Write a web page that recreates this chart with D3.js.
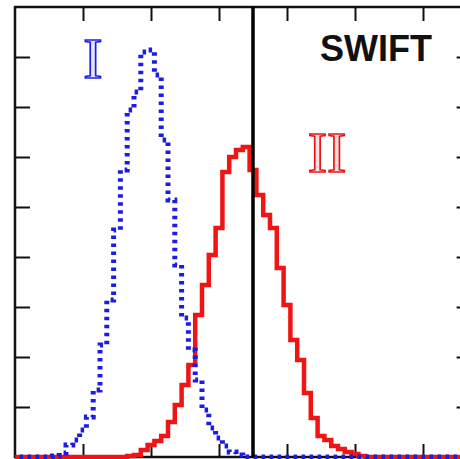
<!DOCTYPE html>
<html>
<head>
<meta charset="utf-8">
<script src="https://cdn.jsdelivr.net/npm/d3@7"></script>
<style>
  html, body { margin: 0; padding: 0; background: #fff; }
  svg { display: block; }
</style>
</head>
<body>
<svg id="svg1" width="460" height="459"></svg>
<script>
const svg = d3.select('#svg1');

// histogram counts, one value per bin (bin k is centred on k)
const blueCounts = [0, 0, 0, 0, 0, 0, 0.02, 0.08, 0.24, 0.34,
  0.54, 0.8, 1.34, 2.24, 3.14, 4.54, 5.74, 6.94, 7.3, 8.1,
  8.14, 7.64, 6.34, 5.14, 3.84, 2.78, 2.14, 1.54, 0.94, 0.58,
  0.38, 0.22, 0.1, 0.04, 0, 0, 0, 0, 0, 0,
  0, 0, 0, 0, 0, 0, 0, 0, 0, 0,
  0, 0, 0, 0, 0, 0, 0, 0, 0, 0,
  0, 0, 0, 0, 0, 0, 0, 0];
const redCounts = [0, 0, 0, 0, 0, 0, 0, 0, 0, 0,
  0, 0, 0, 0, 0, 0, 0, 0.02, 0.04, 0.14,
  0.24, 0.32, 0.42, 0.7, 1.04, 1.44, 1.84, 2.84, 3.44, 4.04,
  4.58, 5.7, 6.0, 6.14, 6.2, 5.74, 5.24, 4.84, 4.58, 3.78,
  3.04, 2.34, 1.94, 1.28, 0.78, 0.42, 0.34, 0.22, 0.16, 0.1,
  0.06, 0.02, 0, 0, 0, 0, 0, 0, 0, 0,
  0, 0, 0, 0, 0, 0, 0, 0];
const xTicks = [10, 20, 30, 40, 50, 60];
const yTicks = [1, 2, 3, 4, 5, 6, 7, 8];
const divider = 35;

// frame
const fLeft = 15, fTop = 7, fRight = 470.6, fBottom = 457;
const x = d3.scaleLinear().domain([0, 67]).range([fLeft, fRight]);
const y = d3.scaleLinear().domain([0, 9]).range([fBottom, fTop]);

svg.append('defs').append('clipPath').attr('id', 'clip')
  .append('rect')
  .attr('x', fLeft).attr('y', fTop - 2)
  .attr('width', fRight - fLeft).attr('height', fBottom - fTop + 4);

// ticks on all four sides, pointing inward
function styleAxis(g) {
  g.select('.domain').remove();
  g.selectAll('text').remove();
  g.selectAll('line').attr('stroke', '#111').attr('stroke-width', 2);
}
svg.append('g').attr('transform', `translate(0,${fTop})`)
  .call(d3.axisTop(x).tickValues(xTicks).tickSize(-14)).call(styleAxis);
svg.append('g').attr('transform', `translate(0,${fBottom})`)
  .call(d3.axisBottom(x).tickValues(xTicks).tickSize(-13)).call(styleAxis);
svg.append('g').attr('transform', `translate(${fLeft},0)`)
  .call(d3.axisLeft(y).tickValues(yTicks).tickSize(-15)).call(styleAxis);
svg.append('g').attr('transform', `translate(${fRight},0)`)
  .call(d3.axisRight(y).tickValues(yTicks).tickSize(-14)).call(styleAxis);

svg.append('rect')
  .attr('x', fLeft).attr('y', fTop)
  .attr('width', fRight - fLeft).attr('height', fBottom - fTop)
  .attr('fill', 'none').attr('stroke', '#111').attr('stroke-width', 2.5);

// step outline of a histogram
function stepPoints(counts) {
  const pts = counts.map((v, k) => [k - 0.5, v]);
  pts.push([counts.length - 0.5, counts[counts.length - 1]]);
  return pts;
}
const line = d3.line()
  .x(d => x(d[0]))
  .y(d => y(d[1]))
  .curve(d3.curveStepAfter);

const plot = svg.append('g').attr('clip-path', 'url(#clip)');

plot.append('path')
  .datum(stepPoints(redCounts))
  .attr('d', line)
  .attr('fill', 'none')
  .attr('stroke', '#f01414')
  .attr('stroke-width', 4.5);

plot.append('path')
  .datum(stepPoints(blueCounts))
  .attr('d', line)
  .attr('fill', 'none')
  .attr('stroke', '#1c1ce0')
  .attr('stroke-width', 5)
  .attr('stroke-dasharray', '3.5,4.5');

// vertical divider
svg.append('line')
  .attr('x1', x(divider)).attr('x2', x(divider))
  .attr('y1', fTop).attr('y2', fBottom)
  .attr('stroke', '#000').attr('stroke-width', 3.5);

// labels
svg.append('text')
  .attr('x', 93).attr('y', 78)
  .attr('text-anchor', 'middle')
  .style('font-family', '"Liberation Serif", "DejaVu Serif", serif')
  .style('font-size', '58px')
  .attr('fill', '#e4e4ff').attr('stroke', '#1c1ce0').attr('stroke-width', 1.7)
  .text('I');

svg.append('text')
  .attr('x', 327).attr('y', 172)
  .attr('text-anchor', 'middle')
  .style('font-family', '"Liberation Serif", "DejaVu Serif", serif')
  .style('font-size', '58px')
  .attr('fill', '#ffe0e0').attr('stroke', '#e81414').attr('stroke-width', 1.7)
  .text('II');

svg.append('text')
  .attr('x', 376).attr('y', 61)
  .attr('text-anchor', 'middle')
  .style('font-family', '"Liberation Sans", Arial, sans-serif')
  .style('font-weight', 'bold')
  .style('font-size', '36px')
  .attr('fill', '#111')
  .text('SWIFT');
</script>
</body>
</html>
